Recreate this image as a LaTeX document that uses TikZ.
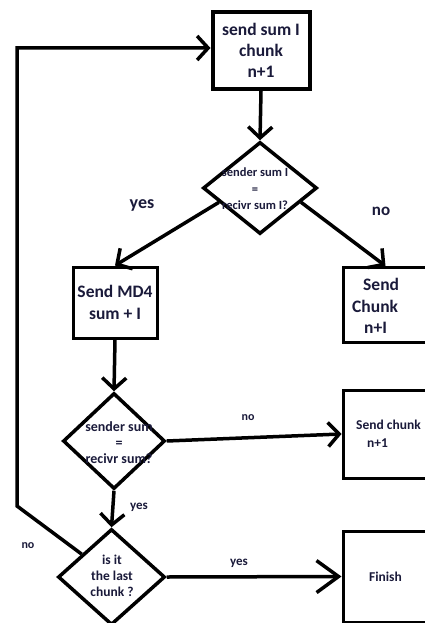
\documentclass[tikz,border=0pt]{standalone}
\usepackage{fontspec}
\setmainfont{Carlito}
\usetikzlibrary{shapes.geometric,arrows.meta,calc}
\definecolor{ink}{RGB}{26,26,58}
\newcommand{\fsz}[2]{\bfseries\fontsize{#1}{#2}\selectfont}
\begin{document}
\begin{tikzpicture}[x=1pt,y=-1pt,
  box/.style={draw=black,line width=3pt,inner sep=0pt,text=ink,align=center},
  thickbox/.style={box,line width=4pt},
  dia/.style={diamond,draw=black,line width=3.5pt,inner sep=0pt},
  txt/.style={inner sep=0pt,text=ink},
  conn/.style={line width=3.5pt,-{Straight Barb[length=11pt,width=24pt]}},
  bigconn/.style={line width=3.5pt,-{Straight Barb[length=22pt,width=32pt]}},
  lbl/.style={inner sep=0pt,text=ink}
]
\useasboundingbox (0,0) rectangle (425,623);
\clip (0,0) rectangle (425,623);

% process boxes
\node[thickbox,minimum width=97,minimum height=77,font=\fsz{17.5}{21}] (b1) at (261,50.5)
  {send sum I\\chunk\\n+1};
\node[box,minimum width=84,minimum height=71,font=\fsz{17.5}{22}] (b2) at (115,302.5)
  {Send MD4\\sum + I};
\node[box,minimum width=85,minimum height=75] (b3) at (385.5,305) {};
\node[txt,anchor=west,align=left,font=\fsz{17.5}{21.5}] (t3) at (352,306)
  {\hspace*{11pt}Send\\Chunk\\\hspace*{12pt}n+I};
\node[box,minimum width=85,minimum height=88] (b4) at (385.5,434) {};
\node[txt,anchor=west,align=left,font=\fsz{13.5}{18}] (t4) at (356,434)
  {Send chunk\\\hspace*{11pt}n+1};
\node[box,minimum width=85,minimum height=91,font=\fsz{13.5}{16}] (b5) at (385.5,576.5)
  {Finish};

% decisions
\node[dia,minimum width=114,minimum height=92] (d1) at (260,188) {};
\node[txt,align=center,font=\fsz{12.5}{16.5}] (t1) at (255,189)
  {sender sum I\\=\\recivr sum I?};
\node[dia,minimum width=102,minimum height=96] (d2) at (114,441) {};
\node[txt,align=center,font=\fsz{14}{16}] (t2) at (119,443)
  {sender sum\\=\\recivr sum?};
\node[dia,minimum width=107,minimum height=96] (d3) at (111.5,577) {};
\node[txt,align=center,font=\fsz{13.5}{16}] (t3d) at (112,576)
  {is it\\the last\\chunk ?};

% loop-back corners
\coordinate (lb) at (17,506);
\coordinate (lt) at (17,48);

% connectors
\draw[conn] (b1.south) -- (d1.north);
\draw[conn] ($(d1.west)!0.3!(d1.south)$) -- (b2.north);
\draw[conn] ($(d1.east)!0.3!(d1.south)$) -- (b3.north);
\draw[conn] (b2.south) -- (d2.north);
\draw[conn] (d2.east) -- (b4.west);
\draw[conn] (d2.south) -- (d3.north);
\draw[bigconn] (d3.east) -- (b5.west);
\draw[conn] ($(d3.north)!0.54!(d3.west)$) -- (lb) -- (lt) -- (lt -| b1.west);

% branch labels
\node[lbl,font=\fsz{18}{18}] (ly1) at (142,205) {yes};
\node[lbl,font=\fsz{17}{17}] (ln1) at (381,211) {no};
\node[lbl,font=\fsz{12}{12}] (ln2) at (248,418) {no};
\node[lbl,font=\fsz{13}{13}] (ly2) at (139,507) {yes};
\node[lbl,font=\fsz{12}{12}] (ln3) at (28,546) {no};
\node[lbl,font=\fsz{13}{13}] (ly3) at (239,563) {yes};
\end{tikzpicture}
\end{document}
